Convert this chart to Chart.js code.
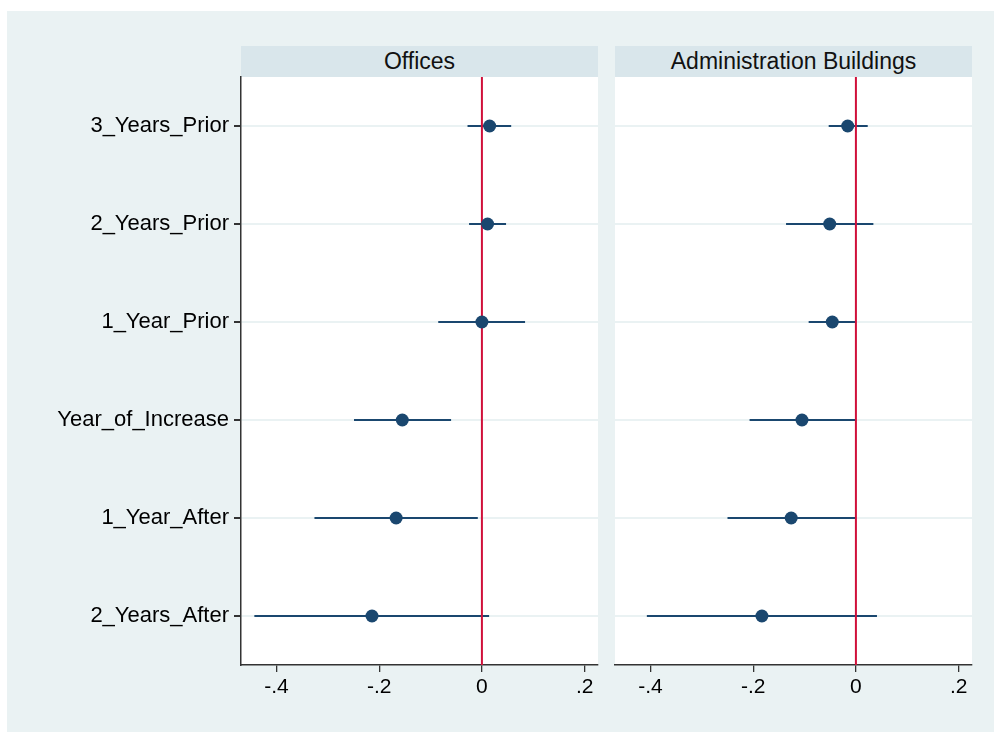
<!DOCTYPE html>
<html>
<head>
<meta charset="utf-8">
<script src="https://cdn.jsdelivr.net/npm/chart.js@4.4.1/dist/chart.umd.min.js"></script>
<style>
    body { margin: 0; background: #ffffff; font-family: 'Liberation Sans', Arial, sans-serif; }
    #page { position: relative; width: 994px; height: 732px; overflow: hidden; }
    #bg { position: absolute; left: 7px; top: 11px; right: 0; bottom: 0; background: #eaf2f3; }
    canvas { position: absolute; left: 0; top: 0; }
    .strip {
        position: absolute; top: 46px; height: 31px; background: #d9e6eb;
        display: flex; align-items: center; justify-content: center;
        font-size: 23px; color: #111;
    }
</style>
</head>
<body>
<div id="page">
    <div id="bg"></div>
    <div class="strip" style="left:241px; width:357px;">Offices</div>
    <div class="strip" style="left:615px; width:357px;">Administration Buildings</div>
    <canvas id="officesChart" width="994" height="732"></canvas>
    <canvas id="adminChart" width="994" height="732"></canvas>
</div>
<script>
const categories = ['3_Years_Prior', '2_Years_Prior', '1_Year_Prior', 'Year_of_Increase', '1_Year_After', '2_Years_After'];

const officesCoef = [0.015, 0.011, 0.000, -0.155, -0.167, -0.214];
const officesLow  = [-0.028, -0.025, -0.085, -0.249, -0.326, -0.443];
const officesHigh = [0.057, 0.047, 0.084, -0.060, -0.008, 0.014];

const adminCoef = [-0.016, -0.051, -0.046, -0.105, -0.126, -0.183];
const adminLow  = [-0.053, -0.136, -0.092, -0.207, -0.250, -0.407];
const adminHigh = [0.023, 0.034, 0.000, -0.001, -0.001, 0.041];

const xTickValues = [-0.4, -0.2, 0, 0.2];
const xTickLabels = ['-.4', '-.2', '0', '.2'];

const NAVY = '#1a476f';
const RED = '#d0103a';
const FONT = 'Liberation Sans, Arial, sans-serif';

// white plot region behind the marks
const plotBackground = {
    id: 'plotBackground',
    beforeDraw(chart) {
        const { ctx, chartArea: a } = chart;
        ctx.save();
        ctx.fillStyle = '#ffffff';
        ctx.fillRect(a.left, a.top, a.right - a.left, a.bottom - a.top);
        ctx.restore();
    }
};

function makeChart(id, coef, low, high, showLabels, padding) {
    const ctx = document.getElementById(id).getContext('2d');

    const ciSets = categories.map((c, i) => ({
        data: [{ x: low[i], y: i + 1 }, { x: high[i], y: i + 1 }],
        showLine: true,
        borderColor: NAVY,
        borderWidth: 2,
        pointRadius: 0,
        order: 2
    }));

    return new Chart(ctx, {
        type: 'scatter',
        data: {
            datasets: [
                ...ciSets,
                {
                    data: [{ x: 0, y: 0.5 }, { x: 0, y: 6.5 }],
                    showLine: true,
                    borderColor: RED,
                    borderWidth: 2,
                    pointRadius: 0,
                    order: 1
                },
                {
                    data: coef.map((v, i) => ({ x: v, y: i + 1 })),
                    pointRadius: 6.5,
                    pointBackgroundColor: NAVY,
                    pointBorderWidth: 0,
                    order: 0
                }
            ]
        },
        plugins: [plotBackground],
        options: {
            responsive: false,
            animation: false,
            layout: { padding: padding },
            plugins: { legend: { display: false }, tooltip: { enabled: false } },
            scales: {
                x: {
                    type: 'linear',
                    min: -0.469,
                    max: 0.226,
                    afterBuildTicks: s => { s.ticks = xTickValues.map(v => ({ value: v })); },
                    afterFit: s => { s.height = 67; },
                    ticks: {
                        autoSkip: false,
                        maxRotation: 0,
                        padding: 3,
                        color: '#000',
                        font: { family: FONT, size: 21 },
                        callback: (v, i) => xTickLabels[i]
                    },
                    grid: { drawOnChartArea: false, tickLength: 7, tickColor: '#333', lineWidth: 1.3 },
                    border: { color: '#333', width: 1.5 }
                },
                y: {
                    type: 'linear',
                    min: 0.5,
                    max: 6.5,
                    reverse: true,
                    afterBuildTicks: s => { s.ticks = categories.map((c, i) => ({ value: i + 1 })); },
                    afterFit: s => { s.width = showLabels ? 241 : 0; },
                    ticks: {
                        display: showLabels,
                        autoSkip: false,
                        padding: 5,
                        color: '#000',
                        font: { family: FONT, size: 22 },
                        callback: (v, i) => categories[i]
                    },
                    grid: {
                        color: '#eaf2f3',
                        lineWidth: 2,
                        drawTicks: showLabels,
                        tickLength: 7,
                        tickColor: '#333'
                    },
                    border: { display: showLabels, color: '#333', width: 1.5 }
                }
            }
        }
    });
}

makeChart('officesChart', officesCoef, officesLow, officesHigh, true,
    { left: 0, top: 77, right: 396, bottom: 0 });
makeChart('adminChart', adminCoef, adminLow, adminHigh, false,
    { left: 615, top: 77, right: 22, bottom: 0 });
</script>
</body>
</html>
